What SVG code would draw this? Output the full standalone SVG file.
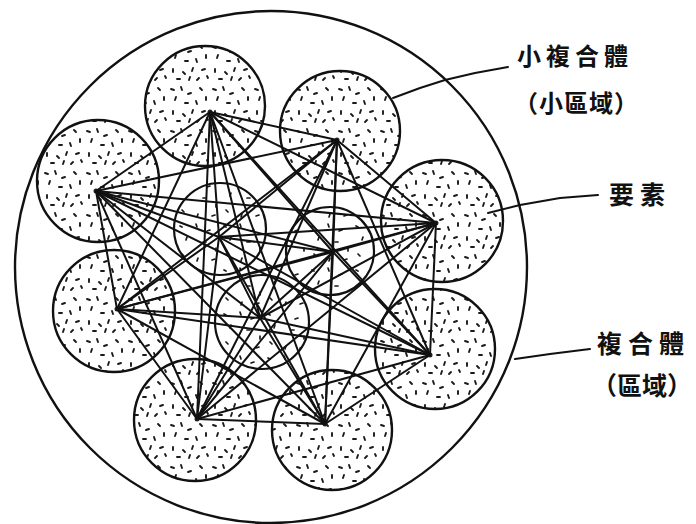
<svg xmlns="http://www.w3.org/2000/svg" width="696" height="524" viewBox="0 0 696 524">
<style>
.big{fill:none;stroke:#111;stroke-width:2.4}
.sc{fill:url(#dense);stroke:#111;stroke-width:2.4}
.ic{fill:url(#sparse);stroke:#111;stroke-width:2.2}
.v{fill:#222}
#connectors line{stroke:#111;stroke-width:2;stroke-linecap:round}
.lead{fill:none;stroke:#111;stroke-width:2;stroke-linecap:round;stroke-linejoin:round}
.lbl{font-family:"Noto Sans CJK TC","Noto Sans CJK SC",sans-serif;fill:#111;font-weight:600}
</style>
<defs>
<pattern id="dense" width="42" height="42" patternUnits="userSpaceOnUse">
<path d="M3 5l3 1M13 3l1 3M23 9l-3 1M32 4l2 2M38 13l0 3M7 16l1 -3M17 19l3 0M28 17l1 3M5 27l0 3M15 30l2 2M25 26l-1 3M34 28l3 -1M9 37l3 0M21 38l1 -3M31 36l-2 2M39 34l1 2" stroke="#1a1a1a" stroke-width="1.9" stroke-linecap="round" fill="none"/>
</pattern>
<pattern id="sparse" width="44" height="44" patternUnits="userSpaceOnUse">
<path d="M4 6l2 1M20 4l1 3M34 10l-3 1M10 20l1 -3M27 22l3 0M40 28l0 3M6 34l2 2M22 38l-1 3M36 40l3 -1" stroke="#1a1a1a" stroke-width="1.7" stroke-linecap="round" fill="none"/>
</pattern>
</defs>
<rect width="696" height="524" fill="#fff"/>
<g id="complex"><circle class="big" cx="271" cy="267" r="256"/></g>
<g id="sub1"><circle class="sc" cx="205" cy="106" r="60"/><circle class="v" cx="210" cy="112" r="2.5"/></g>
<g id="sub2"><circle class="sc" cx="340" cy="131" r="60"/><circle class="v" cx="337" cy="140" r="2.5"/></g>
<g id="sub3"><circle class="sc" cx="98" cy="181" r="61"/><circle class="v" cx="96" cy="191" r="2.5"/></g>
<g id="sub4"><circle class="sc" cx="442" cy="221" r="61"/><circle class="v" cx="436" cy="223" r="2.5"/></g>
<g id="sub5"><circle class="sc" cx="114" cy="311" r="61"/><circle class="v" cx="117" cy="309" r="2.5"/></g>
<g id="sub6"><circle class="sc" cx="195" cy="420" r="61"/><circle class="v" cx="197" cy="419" r="2.5"/></g>
<g id="sub7"><circle class="sc" cx="332" cy="430" r="60"/><circle class="v" cx="325" cy="424" r="2.5"/></g>
<g id="sub8"><circle class="sc" cx="435" cy="349" r="60"/><circle class="v" cx="430" cy="355" r="2.5"/></g>
<g id="inner1"><circle class="ic" cx="220" cy="229" r="46"/></g>
<g id="inner2"><circle class="ic" cx="330" cy="251" r="44"/></g>
<g id="inner3"><circle class="ic" cx="262" cy="322" r="47"/></g>
<g id="connectors">
<line x1="210" y1="112" x2="96" y2="191"/><line x1="210" y1="112" x2="337" y2="140"/><line x1="210" y1="112" x2="436" y2="223"/><line x1="210" y1="112" x2="117" y2="309"/><line x1="210" y1="112" x2="197" y2="419"/><line x1="210" y1="112" x2="325" y2="424"/><line x1="210" y1="112" x2="430" y2="355"/><line x1="210" y1="112" x2="219" y2="237"/><line x1="210" y1="112" x2="333" y2="252"/><line x1="210" y1="112" x2="260" y2="318"/>
<line x1="96" y1="191" x2="337" y2="140"/><line x1="96" y1="191" x2="436" y2="223"/><line x1="96" y1="191" x2="117" y2="309"/><line x1="96" y1="191" x2="197" y2="419"/><line x1="96" y1="191" x2="325" y2="424"/><line x1="96" y1="191" x2="430" y2="355"/><line x1="96" y1="191" x2="219" y2="237"/><line x1="96" y1="191" x2="333" y2="252"/><line x1="96" y1="191" x2="260" y2="318"/>
<line x1="337" y1="140" x2="436" y2="223"/><line x1="337" y1="140" x2="117" y2="309"/><line x1="337" y1="140" x2="197" y2="419"/><line x1="337" y1="140" x2="325" y2="424"/><line x1="337" y1="140" x2="430" y2="355"/><line x1="337" y1="140" x2="219" y2="237"/><line x1="337" y1="140" x2="333" y2="252"/><line x1="337" y1="140" x2="260" y2="318"/>
<line x1="436" y1="223" x2="117" y2="309"/><line x1="436" y1="223" x2="197" y2="419"/><line x1="436" y1="223" x2="325" y2="424"/><line x1="436" y1="223" x2="430" y2="355"/><line x1="436" y1="223" x2="219" y2="237"/><line x1="436" y1="223" x2="333" y2="252"/><line x1="436" y1="223" x2="260" y2="318"/>
<line x1="117" y1="309" x2="197" y2="419"/><line x1="117" y1="309" x2="325" y2="424"/><line x1="117" y1="309" x2="430" y2="355"/><line x1="117" y1="309" x2="219" y2="237"/><line x1="117" y1="309" x2="333" y2="252"/><line x1="117" y1="309" x2="260" y2="318"/>
<line x1="197" y1="419" x2="325" y2="424"/><line x1="197" y1="419" x2="430" y2="355"/><line x1="197" y1="419" x2="219" y2="237"/><line x1="197" y1="419" x2="333" y2="252"/><line x1="197" y1="419" x2="260" y2="318"/>
<line x1="325" y1="424" x2="430" y2="355"/><line x1="325" y1="424" x2="219" y2="237"/><line x1="325" y1="424" x2="333" y2="252"/><line x1="325" y1="424" x2="260" y2="318"/>
<line x1="430" y1="355" x2="219" y2="237"/><line x1="430" y1="355" x2="333" y2="252"/><line x1="430" y1="355" x2="260" y2="318"/>
<line x1="219" y1="237" x2="333" y2="252"/><line x1="219" y1="237" x2="260" y2="318"/>
<line x1="333" y1="252" x2="260" y2="318"/>
<path class="lead" d="M393 98 L420 88 L445 80 L475 73 L508 67"/>
<path class="lead" d="M488 213 L520 205 L560 198 L598 195"/>
<path class="lead" d="M515 359 L550 354 L590 349"/>
</g>
<g id="label-sub">
<text class="lbl" x="517" y="65" font-size="24" letter-spacing="5">小複合體</text>
<text class="lbl" x="514" y="112" font-size="24" letter-spacing="1">（小區域）</text>
</g>
<g id="label-element"><text class="lbl" x="609" y="204" font-size="25" letter-spacing="6">要素</text></g>
<g id="label-complex">
<text class="lbl" x="597" y="353" font-size="25" letter-spacing="6">複合體</text>
<text class="lbl" x="592" y="395" font-size="25">（區域）</text>
</g>
</svg>
